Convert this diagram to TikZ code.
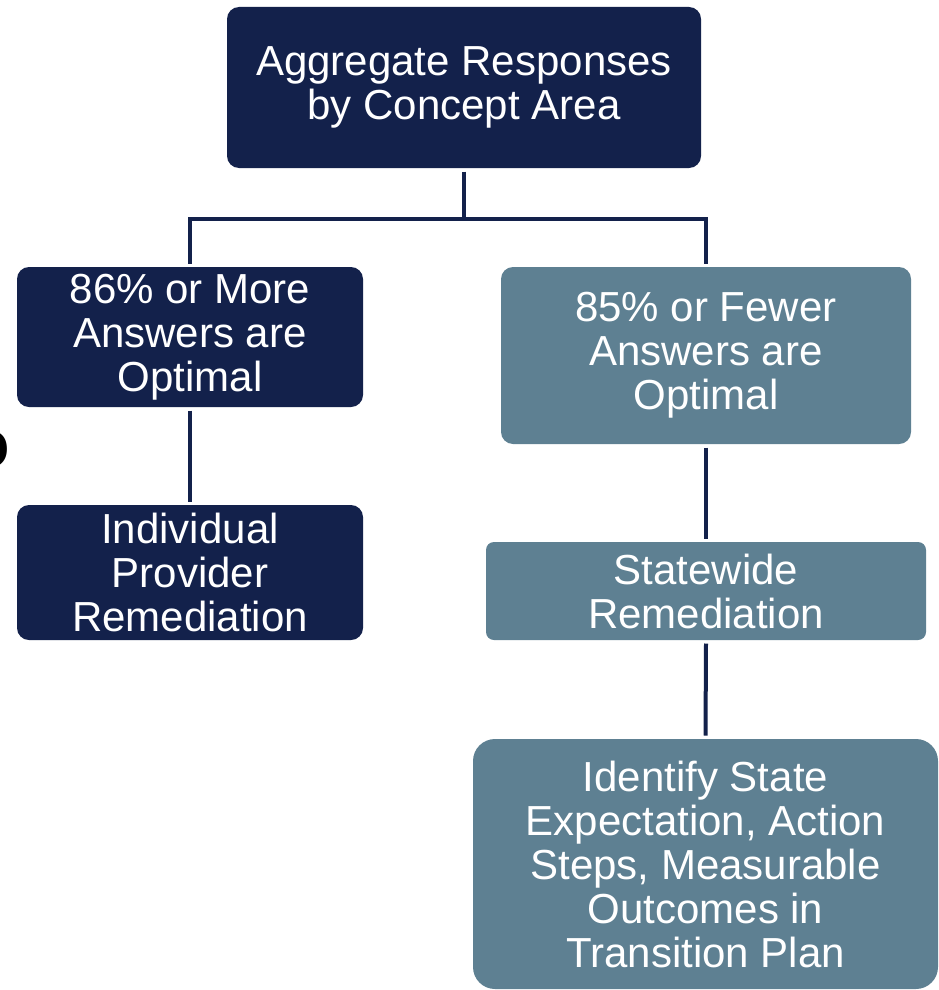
\documentclass[tikz,border=0pt]{standalone}
\usepackage{fontspec}
\setmainfont{Liberation Sans}
\definecolor{navy}{RGB}{19,33,75}
\definecolor{slate}{RGB}{94,128,146}
\tikzset{
  box/.style={rounded corners=12pt, align=center, inner sep=0pt, outer sep=3.5pt,
    text=white, font=\fontsize{42}{44}\selectfont},
  darkbox/.style={box, fill=navy},
  slatebox/.style={box, fill=slate},
  conn/.style={draw=navy, line width=4pt}
}
\begin{document}
\begin{tikzpicture}[x=1pt,y=-1pt]
\useasboundingbox (0,0) rectangle (938,990);
\clip (0,0) rectangle (938,990);
\node[darkbox, minimum width=474pt, minimum height=161pt] (top) at (464,87.5) {Aggregate Responses\\by Concept Area};
\node[darkbox, minimum width=346pt, minimum height=140pt] (l1) at (190,337) {86\% or More\\Answers are\\Optimal};
\node[darkbox, minimum width=346pt, minimum height=135pt] (l2) at (190,572.5) {Individual\\Provider\\Remediation};
\node[slatebox, minimum width=410pt, minimum height=177pt] (r1) at (706,355.5) {85\% or Fewer\\Answers are\\Optimal};
\node[slatebox, minimum width=440pt, minimum height=98pt, rounded corners=8pt] (r2) at (706,591) {Statewide\\Remediation};
\node[slatebox, minimum width=465pt, minimum height=250pt, rounded corners=22pt] (r3) at (705.5,864) {Identify State\\Expectation, Action\\Steps, Measurable\\Outcomes in\\Transition Plan};
\node[anchor=base east, inner sep=0pt, font=\fontsize{68}{70}\selectfont\bfseries] (frag) at (10,467) {o};
\coordinate (bus) at (464,219);
\draw[conn] (top.south) -- (bus);
\draw[conn] (l1.north) |- (bus) -| (r1.north);
\draw[conn] (l1.south) -- (l2.north);
\draw[conn] (r1.south) -- (r2.north);
\draw[conn] (r2.south) -- (r3.north);
\end{tikzpicture}
\end{document}
